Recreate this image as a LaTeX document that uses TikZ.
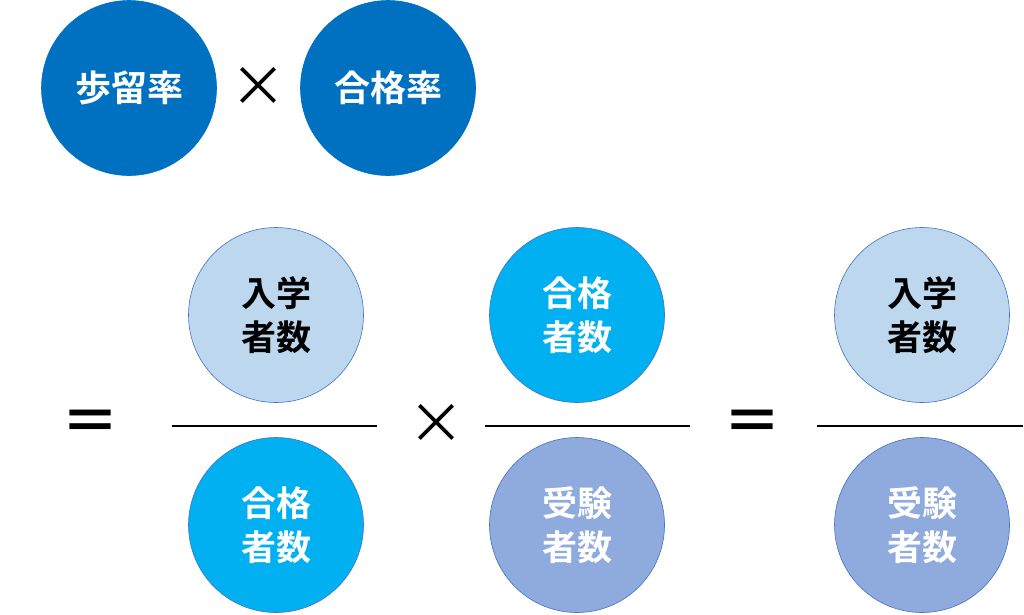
\documentclass[tikz,border=0pt]{standalone}
\usepackage{fontspec}
\newfontfamily\jpfont{Noto Sans CJK JP}[BoldFont=* Bold]
\definecolor{rateblue}{HTML}{0070C0}
\definecolor{enrollblue}{HTML}{BDD7EE}
\definecolor{passcyan}{HTML}{00B0F0}
\definecolor{examblue}{HTML}{8FAADC}
\definecolor{rimblue}{HTML}{4472C4}
\tikzset{
  ball/.style={circle, minimum size=175pt, inner sep=0pt, align=center,
    text=white, draw=rimblue, line width=0.6pt,
    font=\jpfont\bfseries\fontsize{35}{44}\selectfont},
  rateball/.style={ball, fill=rateblue, draw=rateblue,
    font=\jpfont\bfseries\fontsize{36}{44}\selectfont},
  enrollball/.style={ball, fill=enrollblue, text=black},
  passball/.style={ball, fill=passcyan},
  examball/.style={ball, fill=examblue},
  opsign/.style={inner sep=0pt, font=\jpfont\fontsize{56}{56}\selectfont},
  eqsign/.style={opsign, font=\jpfont\bfseries\fontsize{58}{58}\selectfont},
  barline/.style={line width=1.3pt, black}
}
\begin{document}
\begin{tikzpicture}[x=1pt, y=-1pt]
  \useasboundingbox (0,0) rectangle (1024,614);
  % Top row: yield rate x pass rate
  \node[rateball] (yield) at (129,88) {歩留率};
  \node[rateball] (passrate) at (388,88) {合格率};
  \node[opsign] (times1) at (258,87) {×};
  % First fraction: enrolled / passed
  \node[eqsign] (eq1) at (90,426) {＝};
  \node[enrollball] (enroll1) at (276,315) {入学\\者数};
  \node[passball] (pass1) at (276,525) {合格\\者数};
  \coordinate (bar1w) at (172,426);
  \coordinate (bar1e) at (377,426);
  \draw[barline] (bar1w) -- (bar1e);
  \node[opsign] (times2) at (436,424) {×};
  % Second fraction: passed / examinees
  \node[passball] (pass2) at (577,315) {合格\\者数};
  \node[examball] (exam2) at (577,525) {受験\\者数};
  \coordinate (bar2w) at (485,426);
  \coordinate (bar2e) at (690,426);
  \draw[barline] (bar2w) -- (bar2e);
  % Result: enrolled / examinees
  \node[eqsign] (eq2) at (752,426) {＝};
  \node[enrollball] (enroll3) at (922,315) {入学\\者数};
  \node[examball] (exam3) at (922,525) {受験\\者数};
  \coordinate (bar3w) at (817,426);
  \coordinate (bar3e) at (1023,426);
  \draw[barline] (bar3w) -- (bar3e);
\end{tikzpicture}
\end{document}
